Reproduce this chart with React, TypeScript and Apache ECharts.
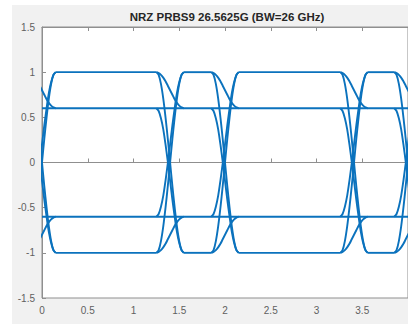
import React, { useEffect, useRef } from "react";
import * as echarts from "echarts";

// ---- data ----
const titleText = "NRZ PRBS9 26.5625G (BW=26 GHz)";
const xRange = [0, 4];
const yRange = [-1.5, 1.5];
const tickStep = 0.5;
// crossing times of the eye transitions
const edgeTimes = [0, 1.4, 2.0, 3.41, 4.0];
// time offsets of the sample points around each crossing
const edgeOffsets = [-0.15, -0.125, -0.1, -0.075, -0.05, -0.025, 0, 0.025, 0.05, 0.075, 0.1, 0.125, 0.15];
// transition shapes (values at the offsets above)
const fullFall = [1, 0.97, 0.87, 0.71, 0.5, 0.26, 0, -0.26, -0.5, -0.71, -0.87, -0.97, -1];
const fullRise = [-1, -0.97, -0.87, -0.71, -0.5, -0.26, 0, 0.26, 0.5, 0.71, 0.87, 0.97, 1];
const highToDe = [1, 0.99, 0.97, 0.94, 0.9, 0.85, 0.8, 0.75, 0.7, 0.66, 0.63, 0.61, 0.6];
const lowToDe = [-1, -0.99, -0.97, -0.94, -0.9, -0.85, -0.8, -0.75, -0.7, -0.66, -0.63, -0.61, -0.6];
const deHighFall = [0.6, 0.57, 0.49, 0.37, 0.2, 0.01, -0.2, -0.41, -0.6, -0.77, -0.89, -0.97, -1];
const deLowRise = [-0.6, -0.57, -0.49, -0.37, -0.2, -0.01, 0.2, 0.41, 0.6, 0.77, 0.89, 0.97, 1];
// steady levels
const plateauLevels = [1, -1];
const deLevels = [0.6, -0.6];

const FONT = "'Liberation Sans', Arial, Helvetica, sans-serif";
const LINE = "#0b72bd";
const AXIS = "#8f8f8f";
const LABEL = "#5f5f5f";

export default function App() {
  const ref = useRef<HTMLDivElement>(null);

  useEffect(() => {
    if (!ref.current) return;
    const chart = echarts.init(ref.current, undefined, { renderer: "svg" });

    const lineStyle = { color: LINE, width: 1.9 };
    const mk = (data: number[][]) => ({
      type: "line",
      data,
      smooth: 0.3,
      symbol: "none",
      silent: true,
      clip: true,
      lineStyle,
      z: 3,
    });

    const shapes = [fullFall, fullRise, highToDe, lowToDe, deHighFall, deLowRise];
    const series: any[] = [];
    edgeTimes.forEach((c) => {
      shapes.forEach((s) => {
        series.push(mk(edgeOffsets.map((o, i) => [c + o, s[i]])));
      });
    });
    const half = edgeOffsets[edgeOffsets.length - 1];
    for (let i = 0; i < edgeTimes.length - 1; i++) {
      plateauLevels.forEach((L) => {
        series.push(mk([[edgeTimes[i] + half, L], [edgeTimes[i + 1] - half, L]]));
      });
    }
    deLevels.forEach((L) => {
      series.push(mk([[xRange[0], L], [xRange[1], L]]));
    });

    const axisCommon = {
      type: "value",
      interval: tickStep,
      axisLine: { show: true, lineStyle: { color: AXIS, width: 1 } },
      axisTick: { show: true, inside: true, length: 4, lineStyle: { color: AXIS } },
      splitLine: { show: false },
    };

    chart.setOption({
      animation: false,
      backgroundColor: "transparent",
      grid: {
        left: 42,
        right: -4,
        top: 27,
        bottom: 26,
        show: true,
        backgroundColor: "#ffffff",
        borderColor: AXIS,
        borderWidth: 1,
      },
      xAxis: [
        {
          ...axisCommon,
          min: xRange[0],
          max: xRange[1],
          axisLabel: { color: LABEL, fontSize: 10, margin: 7, fontFamily: FONT, showMaxLabel: false },
        },
        {
          ...axisCommon,
          position: "top",
          min: xRange[0],
          max: xRange[1],
          axisLabel: { show: false },
        },
      ],
      yAxis: {
        ...axisCommon,
        min: yRange[0],
        max: yRange[1],
        axisLabel: { color: LABEL, fontSize: 10, margin: 7, fontFamily: FONT },
      },
      graphic: [
        {
          type: "text",
          x: 227,
          y: 17,
          style: {
            text: titleText,
            fontSize: 11.5,
            fontWeight: "bold",
            fontFamily: FONT,
            fill: "#262626",
            align: "center",
            verticalAlign: "middle",
            textAlign: "center",
            textVerticalAlign: "middle",
          },
        },
      ],
      series,
    });

    return () => chart.dispose();
  }, []);

  return (
    <div
      style={{
        position: "fixed",
        left: 0,
        top: 0,
        width: 408,
        height: 324,
        background: "#ffffff",
        overflow: "hidden",
      }}
    >
      <div
        style={{
          position: "absolute",
          left: 12,
          top: 5,
          right: 0,
          bottom: 0,
          background: "#f1f1f1",
        }}
      />
      <div ref={ref} style={{ position: "absolute", left: 0, top: 0, width: 408, height: 324 }} />
    </div>
  );
}
